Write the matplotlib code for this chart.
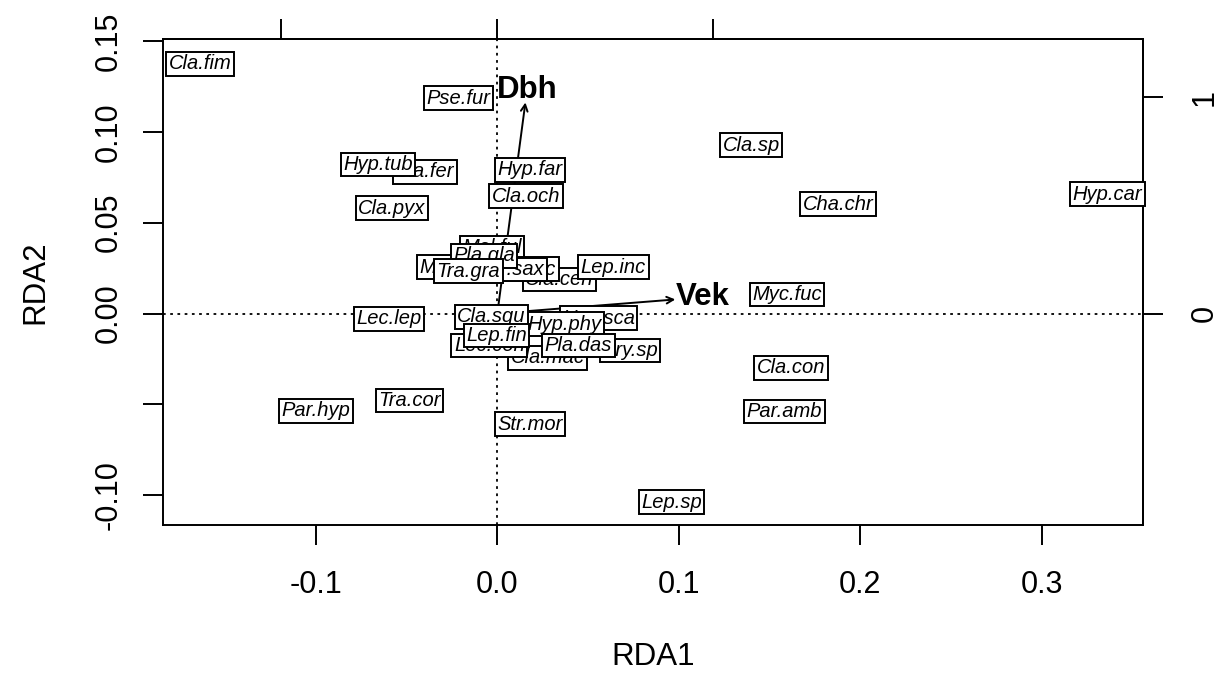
import matplotlib
matplotlib.use("Agg")
import matplotlib.pyplot as plt
from matplotlib.transforms import Affine2D
import numpy as np

plt.rcParams['font.family'] = ['Liberation Sans', 'DejaVu Sans']

# ---- data (species scores, drawn bottom -> top) ----
species = ["Cla.fer", "Hyp.tub", "Cla.fim", "Pse.fur", "Hyp.far", "Cla.och",
           "Cla.pyx", "Cla.sp", "Cha.chr", "Hyp.car", "Myc.fuc", "Cla.con",
           "Par.amb", "Lep.sp", "Str.mor", "Tra.cor", "Par.hyp", "Lec.lep",
           "Cla.cen", "Mel.ful", "Mel.sub", "Cla.coc", "Par.sax", "Pla.gla",
           "Tra.gra", "Lep.inc", "Cla.mac", "Bry.sp", "Hyp.sca", "Hyp.phy",
           "Cla.squ", "Lec.con", "Lep.fin", "Pla.das"]
rda1 = [-0.0399, -0.0658, -0.1639, -0.0214, 0.0180, 0.0158,
        -0.0581, 0.1400, 0.1877, 0.3361, 0.1596, 0.1618,
        0.1582, 0.0959, 0.0180, -0.0484, -0.0999, -0.0597,
        0.0343, -0.0030, -0.0234, 0.0141, 0.0072, -0.0074,
        -0.0159, 0.0640, 0.0276, 0.0731, 0.0557, 0.0370,
        -0.0033, -0.0044, -0.0005, 0.0447]
rda2 = [0.0780, 0.0821, 0.1375, 0.1185, 0.0791, 0.0645,
        0.0579, 0.0928, 0.0601, 0.0656, 0.0105, -0.0300,
        -0.0540, -0.1039, -0.0609, -0.0479, -0.0537, -0.0028,
        0.0187, 0.0364, 0.0256, 0.0245, 0.0242, 0.0317,
        0.0234, 0.0256, -0.0245, -0.0204, -0.0025, -0.0060,
        -0.0019, -0.0176, -0.0121, -0.0176]

# ---- biplot arrows (biplot scale) ----
env_vars = ["Dbh", "Vek"]
env_rda1 = [0.130, 0.824]
env_rda2 = [0.977, 0.065]
arrow_mul = 0.119

x_ticks = [-0.1, 0.0, 0.1, 0.2, 0.3]
x_ticklabels = ["-0.1", "0.0", "0.1", "0.2", "0.3"]
y_ticks = [-0.10, -0.05, 0.00, 0.05, 0.10, 0.15]
y_ticklabels = ["-0.10", "", "0.00", "0.05", "0.10", "0.15"]
bp_ticks = [-1, 0, 1]
bp_ticklabels = ["-1", "0", "1"]

fig = plt.figure(figsize=(12.29, 6.82), dpi=100)
ax = fig.add_axes([0.1326, 0.2302, 0.7974, 0.7126])
ax.set_xlim(-0.1842, 0.3557)
ax.set_ylim(-0.1165, 0.1512)

for s in ax.spines.values():
    s.set_linewidth(1.4)

ax.axhline(0, color='black', linestyle=(0, (1.5, 2.5)), lw=1.3, zorder=1)
ax.axvline(0, color='black', linestyle=(0, (1.5, 2.5)), lw=1.3, zorder=1)

renderer = fig.canvas.get_renderer()

# arrows
for name, ex, ey in zip(env_vars, env_rda1, env_rda2):
    tx, ty = ex * arrow_mul, ey * arrow_mul
    ax.annotate('', xy=(tx, ty), xytext=(0, 0),
                arrowprops=dict(arrowstyle='->', lw=1.4, color='black',
                                mutation_scale=12, shrinkA=0, shrinkB=0),
                zorder=2)
    t = ax.text(tx, ty, name, fontsize=22.5, fontweight='bold',
                ha='center', va='center', zorder=3)
    bb = t.get_window_extent(renderer)
    w, h = bb.width, bb.height * 0.8
    p0 = ax.transData.transform((0, 0))
    p1 = ax.transData.transform((tx, ty))
    d = p1 - p0
    u = d / np.hypot(d[0], d[1])
    cand = []
    if abs(u[0]) > 1e-9:
        cand.append((w / 2) / abs(u[0]))
    if abs(u[1]) > 1e-9:
        cand.append((h / 2) / abs(u[1]))
    s_off = min(cand)
    off = u * s_off
    t.set_transform(ax.transData + Affine2D().translate(off[0], off[1]))

# species labels
for i, (name, x, y) in enumerate(zip(species, rda1, rda2)):
    ax.text(x, y, name, fontsize=14.5, style='italic', ha='center', va='center',
            zorder=4 + i,
            bbox=dict(boxstyle='square,pad=0.12', facecolor='white',
                      edgecolor='black', linewidth=1.4))

ax.set_xticks(x_ticks)
ax.set_xticklabels(x_ticklabels)
ax.set_yticks(y_ticks)
ax.set_yticklabels(y_ticklabels, rotation=90, va='center')
ax.tick_params(axis='both', length=14.4, width=1.4, labelsize=22)
ax.tick_params(axis='x', pad=18)
ax.tick_params(axis='y', pad=14)

ax.set_xlabel("RDA1", fontsize=22.5)
ax.set_ylabel("RDA2", fontsize=22.5)
ax.xaxis.set_label_coords(0.5, -0.2716)
ax.yaxis.set_label_coords(-0.1306, 0.5)
ax.xaxis.label.set_va('center')
ax.yaxis.label.set_va('center')

# secondary axes for biplot scale
secx = ax.secondary_xaxis('top', functions=(lambda v: v / arrow_mul, lambda v: v * arrow_mul))
secx.set_xticks(bp_ticks)
secx.set_xticklabels([""] * len(bp_ticks))
secx.tick_params(length=14.4, width=1.4)
secx.spines['top'].set_linewidth(1.4)

secy = ax.secondary_yaxis('right', functions=(lambda v: v / arrow_mul, lambda v: v * arrow_mul))
secy.set_yticks(bp_ticks)
secy.set_yticklabels(bp_ticklabels, rotation=90, va='center')
secy.tick_params(length=14.4, width=1.4, labelsize=22, pad=19.5)
secy.spines['right'].set_linewidth(1.4)

fig.savefig("out.png", dpi=100)
